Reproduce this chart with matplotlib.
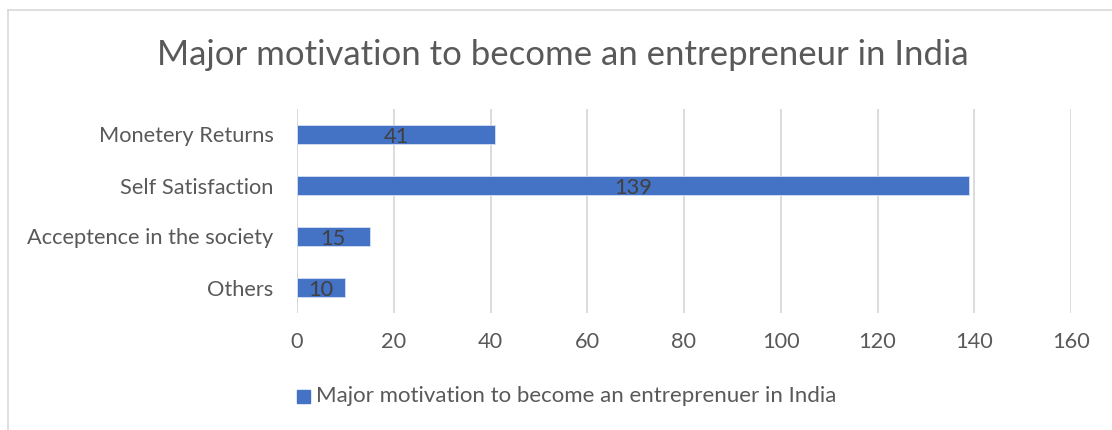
import matplotlib
matplotlib.use("Agg")
import matplotlib.pyplot as plt
from matplotlib.patches import Rectangle

categories = ["Monetery Returns", "Self Satisfaction", "Acceptence in the society", "Others"]
values = [41, 139, 15, 10]
x_ticks = [0, 20, 40, 60, 80, 100, 120, 140, 160]
title = "Major motivation to become an entrepreneur in India"
series_name = "Major motivation to become an entreprenuer in India"

plt.rcParams["font.family"] = ["Lato", "DejaVu Sans"]
text_color = "#595959"
bar_color = "#4472C4"
grid_color = "#D9D9D9"

W, H = 1112, 430
fig = plt.figure(figsize=(W / 100, H / 100), dpi=100)

# chart frame (light gray), open on the right
fig.add_artist(plt.Line2D([8 / W, 1.0], [1 - 10 / H, 1 - 10 / H], color=grid_color, lw=1.2))
fig.add_artist(plt.Line2D([8 / W, 8 / W], [0, 1 - 10 / H], color=grid_color, lw=1.2))

left, right = 297, 1071
top, bottom = 109, 313
ax = fig.add_axes([left / W, 1 - bottom / H, (right - left) / W, (bottom - top) / H])

ypos = list(range(len(categories)))
bars = ax.barh(ypos, values, height=0.39, color=bar_color, edgecolor="#D6E0F3",
               linewidth=0.6, zorder=3)
ax.set_ylim(len(categories) - 0.5, -0.5)
ax.set_xlim(x_ticks[0], x_ticks[-1])
ax.set_yticks(ypos)
ax.set_yticklabels(categories, fontsize=15.7, color=text_color)
ax.set_xticks(x_ticks)
ax.set_xticklabels([str(t) for t in x_ticks], fontsize=15.7, color=text_color)
ax.tick_params(axis="both", length=0)
ax.tick_params(axis="y", pad=17)
ax.tick_params(axis="x", pad=14)
ax.grid(axis="x", color=grid_color, lw=1.3, zorder=0)
for s in ax.spines.values():
    s.set_visible(False)
ax.axvline(0, color=grid_color, lw=1.3, zorder=1)

for b, v in zip(bars, values):
    ax.text(v / 2, b.get_y() + b.get_height() / 2 + 0.05, str(v), ha="center", va="center",
            fontsize=15.7, color="#404040", zorder=4)

fig.text(563 / W, 1 - 55 / H, title, ha="center", va="center", fontsize=25, color=text_color)

# legend
fig.add_artist(Rectangle((297 / W, 1 - 403 / H), 13 / W, 13 / H,
                         transform=fig.transFigure, color=bar_color))
fig.text(316 / W, 1 - 396 / H, series_name, ha="left", va="center", fontsize=16, color=text_color)

fig.savefig("out.png", dpi=100, facecolor="white")
